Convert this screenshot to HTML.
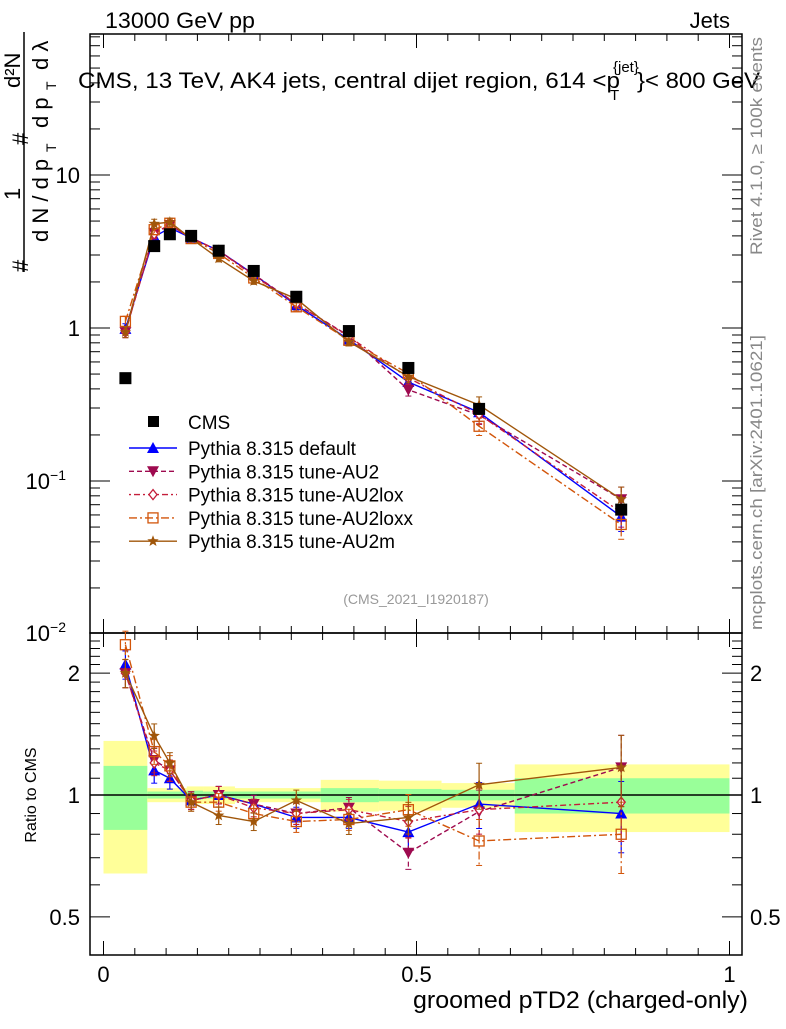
<!DOCTYPE html>
<html><head><meta charset="utf-8"><style>
body{margin:0;background:#fff;width:786px;height:1024px;overflow:hidden}
svg{font-family:"Liberation Sans",sans-serif}
</style></head><body>
<svg id="c" width="786" height="1024" xmlns="http://www.w3.org/2000/svg"></svg>
<script>
const xs=[0.035,0.081,0.106,0.140,0.184,0.240,0.308,0.392,0.487,0.600,0.827];
const cms=[0.47,3.43,4.1,4.0,3.2,2.36,1.6,0.955,0.548,0.296,0.065];
const rDefault=[2.1,1.15,1.1,0.97,1.0,0.95,0.88,0.88,0.81,0.95,0.9];
const rAU2=[2.0,1.22,1.15,0.97,1.0,0.95,0.9,0.93,0.72,0.91,1.17];
const rAU2lox=[2.0,1.2,1.15,0.97,1.0,0.93,0.9,0.92,0.86,0.92,0.96];
const rAU2loxx=[2.35,1.28,1.18,0.96,0.96,0.9,0.86,0.87,0.92,0.77,0.8];
const rAU2m=[2.0,1.4,1.2,0.96,0.89,0.86,0.97,0.85,0.88,1.06,1.17];
const relErr=[0.08,0.07,0.06,0.05,0.05,0.05,0.06,0.06,0.09,0.13,0.2];
const bandEdges=[0,0.07,0.133,0.159,0.21,0.347,0.44,0.54,0.657,1.0];
const greenUp=[1.18,1.02,1.025,1.02,1.02,1.04,1.035,1.03,1.1];
const greenDn=[0.82,0.98,0.975,0.98,0.98,0.96,0.965,0.97,0.9];
const yellowUp=[1.36,1.04,1.05,1.05,1.04,1.09,1.085,1.07,1.19];
const yellowDn=[0.64,0.96,0.95,0.95,0.96,0.91,0.915,0.93,0.81];
const S=document.getElementById('c');const NS='http://www.w3.org/2000/svg';
function mk(t,a,p){const e=document.createElementNS(NS,t);for(const k in a)e.setAttribute(k,a[k]);(p||S).appendChild(e);return e;}
const FR=742;
const X=v=>103.5+626*v;
const YT=v=>328-153*Math.log10(v);
const YR=v=>795-405*Math.log10(v);
for(let i=0;i<greenUp.length;i++){
 const x0=X(bandEdges[i]),x1=X(bandEdges[i+1]);
 let e=mk('rect',{x:x0,y:YR(yellowUp[i]),width:x1-x0,height:YR(yellowDn[i])-YR(yellowUp[i]),fill:'#ffff99'});
 
 
 e=mk('rect',{x:x0,y:YR(greenUp[i]),width:x1-x0,height:YR(greenDn[i])-YR(greenUp[i]),fill:'#99ff99'});
 
 
}
mk('line',{x1:90,x2:FR,y1:YR(1),y2:YR(1),stroke:'#000','stroke-width':1.5});
mk('rect',{x:90,y:34,width:FR-90,height:599,fill:'none',stroke:'#000','stroke-width':1.5});
mk('rect',{x:90,y:633,width:FR-90,height:322,fill:'none',stroke:'#000','stroke-width':1.5});
for(let k=0;k<=20;k++){const v=k*0.05,x=X(v);const L=(k%10==0)?14:7;
 for(const [yb,yt] of [[633,34],[955,633]]){mk('line',{x1:x,x2:x,y1:yb,y2:yb-L,stroke:'#000'});mk('line',{x1:x,x2:x,y1:yt,y2:yt+L,stroke:'#000'});}}
for(let d=-2;d<=1;d++)for(let m=1;m<=9;m++){const v=m*Math.pow(10,d),y=YT(v);if(y<34||y>633)continue;const L=m==1?20:10;
 mk('line',{x1:90,x2:90+L,y1:y,y2:y,stroke:'#000'});mk('line',{x1:FR,x2:FR-L,y1:y,y2:y,stroke:'#000'});}
for(const v of [0.5,0.6,0.7,0.8,0.9,1,1.1,1.2,1.3,1.4,1.5,1.6,1.7,1.8,1.9,2,2.1,2.2,2.3,2.4]){const y=YR(v);if(y<633||y>955)continue;const L=(v==0.5||v==1||v==2)?20:10;
 mk('line',{x1:90,x2:90+L,y1:y,y2:y,stroke:'#000'});mk('line',{x1:FR,x2:FR-L,y1:y,y2:y,stroke:'#000'});}
function txt(s,a,name){const e=mk('text',a);e.textContent=s;return e;}
txt('10',{x:80,y:183,'font-size':22,'text-anchor':'end'},'y-tick-10');
txt('1',{x:80,y:336,'font-size':22,'text-anchor':'end'},'y-tick-1');
let t=txt('10',{x:66,y:489,'font-size':22,'text-anchor':'end'},'y-tick-0.1');mk('tspan',{dy:-9,'font-size':14},t).textContent='−1';
t=txt('10',{x:66,y:641,'font-size':22,'text-anchor':'end'},'y-tick-0.01');mk('tspan',{dy:-9,'font-size':14},t).textContent='−2';
for(const [v,s] of [[2,'2'],[1,'1'],[0.5,'0.5']]){txt(s,{x:80,y:YR(v)+8,'font-size':22,'text-anchor':'end'},'ratio-tick-left');txt(s,{x:750,y:YR(v)+8,'font-size':22},'ratio-tick-right');}
for(const [v,s] of [[0,'0'],[0.5,'0.5'],[1,'1']])txt(s,{x:X(v),y:982,'font-size':22,'text-anchor':'middle'},'x-tick');
txt('groomed pTD2 (charged-only)',{x:413,y:1008,'font-size':24,textLength:335,lengthAdjust:'spacingAndGlyphs'},'x-axis-title');
txt('13000 GeV pp',{x:105,y:28,'font-size':22,textLength:150,lengthAdjust:'spacingAndGlyphs'},'energy-label');
txt('Jets',{x:730,y:28,'font-size':22,'text-anchor':'end'},'process-label');
txt('CMS, 13 TeV, AK4 jets, central dijet region, 614 <p',{x:78,y:88,'font-size':22,textLength:542,lengthAdjust:'spacingAndGlyphs'},'plot-title');
txt('T',{x:610,y:100,'font-size':15},'title-subscript');
txt('{jet}',{x:613,y:72,'font-size':15},'title-superscript');
txt('}< 800 GeV',{x:637,y:88,'font-size':22,textLength:123,lengthAdjust:'spacingAndGlyphs'},'title-end');
txt('(CMS_2021_I1920187)',{x:416,y:604,'font-size':14,fill:'#999','text-anchor':'middle'},'analysis-watermark');
txt('Rivet 4.1.0, ≥ 100k events',{x:0,y:0,'font-size':17,fill:'#888',textLength:218,lengthAdjust:'spacingAndGlyphs',transform:'translate(762,255) rotate(-90)'},'rivet-version-label');
txt('mcplots.cern.ch [arXiv:2401.10621]',{x:0,y:0,'font-size':17,fill:'#888',textLength:295,lengthAdjust:'spacingAndGlyphs',transform:'translate(762,630) rotate(-90)'},'mcplots-label');
txt('Ratio to CMS',{x:0,y:0,'font-size':16,'text-anchor':'middle',transform:'translate(36,795) rotate(-90)'},'ratio-y-axis-title');
const yl=mk('g',{transform:'rotate(-90)'});
mk('line',{x1:-272,x2:-32,y1:24,y2:24,stroke:'#000','stroke-width':1.5},yl);
const T=(s,x,y,fs)=>{const e=mk('text',{x:x,y:y,'font-size':fs},yl);e.textContent=s;return e;};
T('#',-272,28,22);T('1',-200,20,22);T('#',-145,28,22);T('d²N',-88,20,22);
T('d N / d p',-242,48,22);T('T',-152,56,14);
T('d p',-128,48,22);T('T',-90,56,14);T('d λ',-70,48,22);
const series=[
 {n:'default',r:rDefault,c:'#0000ff',d:'',m:'tri'},
 {n:'tune-AU2',r:rAU2,c:'#9e0a4f',d:'5,3',m:'itri'},
 {n:'tune-AU2lox',r:rAU2lox,c:'#c41e3a',d:'2,3,6,3',m:'dia'},
 {n:'tune-AU2loxx',r:rAU2loxx,c:'#d2550a',d:'8,3,2,3',m:'sq'},
 {n:'tune-AU2m',r:rAU2m,c:'#a0560a',d:'',m:'star'}];
function marker(type,x,y,c,g){
 if(type=='tri')return mk('polygon',{points:`${x},${y-6} ${x-6},${y+5} ${x+6},${y+5}`,fill:c},g);
 if(type=='itri')return mk('polygon',{points:`${x},${y+6} ${x-6},${y-5} ${x+6},${y-5}`,fill:c},g);
 if(type=='dia')return mk('polygon',{points:`${x},${y-5} ${x-4},${y} ${x},${y+5} ${x+4},${y}`,fill:'#fff',stroke:c,'stroke-width':1.3},g);
 if(type=='sq')return mk('rect',{x:x-5,y:y-5,width:10,height:10,fill:'none',stroke:c,'stroke-width':1.3},g);
 let p='';for(let i=0;i<10;i++){const R=i%2?2.5:6,an=-Math.PI/2+i*Math.PI/5;p+=`${x+R*Math.cos(an)},${y+R*Math.sin(an)} `;}
 return mk('polygon',{points:p,fill:c},g);
}
series.forEach(s=>{
 for(const panel of ['top','ratio']){
  const g=mk('g',{});
  
  
  const Y=panel=='top'?(i=>YT(cms[i]*s.r[i])):(i=>YR(s.r[i]));
  const E=panel=='top'?(i=>[YT(cms[i]*s.r[i]*(1+relErr[i])),YT(cms[i]*s.r[i]*(1-relErr[i]))]):(i=>[YR(s.r[i]*(1+relErr[i])),YR(s.r[i]*(1-relErr[i]))]);
  mk('polyline',{points:xs.map((x,i)=>X(x)+','+Y(i)).join(' '),fill:'none',stroke:s.c,'stroke-width':1.4,'stroke-dasharray':s.d},g);
  xs.forEach((x,i)=>{const [a,b]=E(i);mk('line',{x1:X(x),x2:X(x),y1:a,y2:b,stroke:s.c,'stroke-width':1.2,'stroke-dasharray':s.d},g);
   mk('line',{x1:X(x)-3,x2:X(x)+3,y1:a,y2:a,stroke:s.c},g);mk('line',{x1:X(x)-3,x2:X(x)+3,y1:b,y2:b,stroke:s.c},g);
   marker(s.m,X(x),Y(i),s.c,g);});
 }
});
const cg=mk('g',{});
xs.forEach((x,i)=>mk('rect',{x:X(x)-6,y:YT(cms[i])-6,width:12,height:12,fill:'#000'},cg));
const lg=mk('g',{});
mk('rect',{x:148,y:416,width:11,height:11,fill:'#000'},lg);
let a=mk('text',{x:188,y:429,'font-size':19},lg);a.textContent='CMS';
series.forEach((s,k)=>{const y=448+k*23.3;
 mk('line',{x1:129,x2:177,y1:y,y2:y,stroke:s.c,'stroke-width':1.4,'stroke-dasharray':s.d},lg);
 marker(s.m,153,y,s.c,lg);
 const e=mk('text',{x:188,y:y+7,'font-size':19},lg);e.textContent='Pythia 8.315 '+s.n;});
</script>
</body></html>
